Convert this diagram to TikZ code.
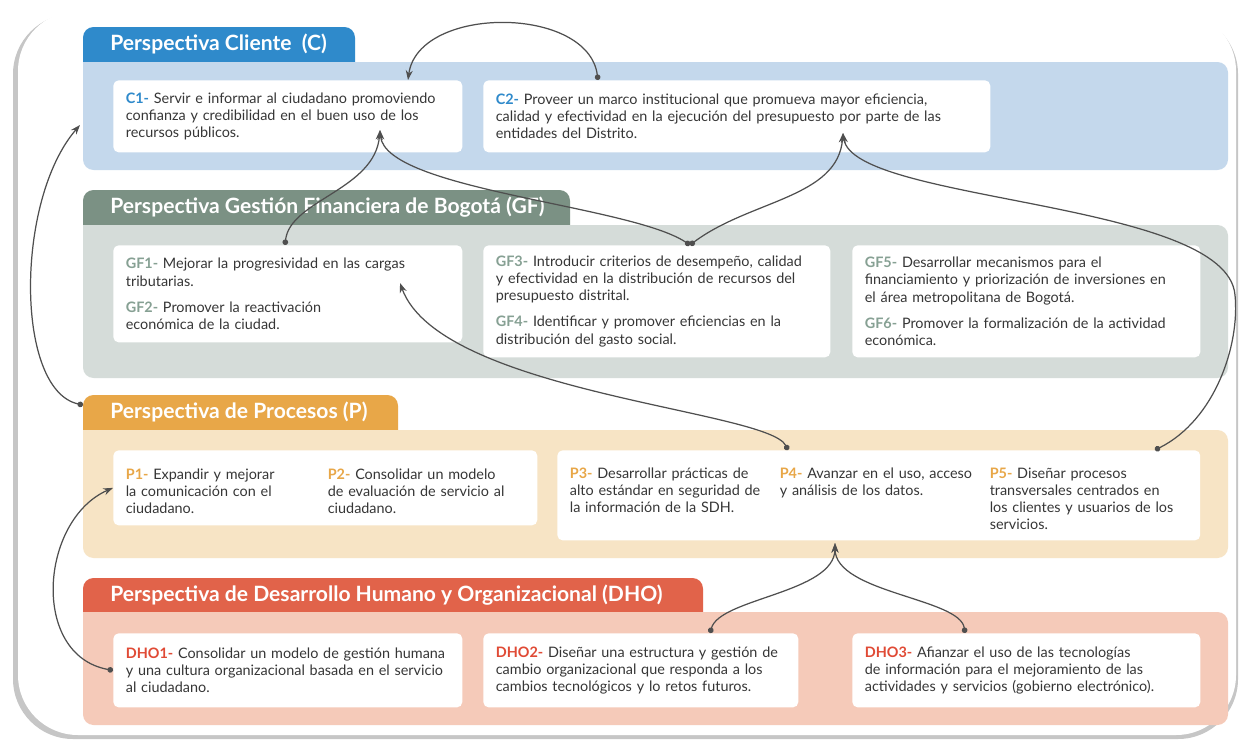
\documentclass[tikz,border=0pt]{standalone}
\usepackage{fontspec}
\setmainfont{Lato}
\usetikzlibrary{calc,arrows.meta}

\definecolor{azul}{HTML}{2F8ACB}
\definecolor{azulclaro}{HTML}{C4D8EC}
\definecolor{verde}{HTML}{7B9184}
\definecolor{verdeclaro}{HTML}{D5DCD9}
\definecolor{verdeeti}{HTML}{86A093}
\definecolor{naranja}{HTML}{E8A748}
\definecolor{naranjaclaro}{HTML}{F7E4C5}
\definecolor{rojo}{HTML}{E1634A}
\definecolor{rojoclaro}{HTML}{F5CAB9}
\definecolor{rojoeti}{HTML}{E04A35}
\definecolor{texto}{HTML}{363636}
\definecolor{linea}{HTML}{4F4F4F}
\newcommand{\eti}[2]{{\bfseries\color{#1}#2}}

\begin{document}
\begin{tikzpicture}[x=0.02cm,y=-0.02cm]
  \tikzstyle{caja}=[fill=white, rounded corners=3pt, anchor=north west, align=left, inner xsep=0.25cm, inner ysep=0.1cm, text=texto, font=\fontsize{8.2}{9.8}\selectfont];
  \tikzstyle{titulo}=[anchor=west, text=white, inner sep=0, font=\fontsize{12}{14}\selectfont\bfseries];
  \tikzstyle{enlace}=[draw=linea, line width=0.7pt, {Circle[length=3.2pt]}-{Stealth[length=5.5pt,width=4pt]}];

  \useasboundingbox (0,0) rectangle (1241,741);
  % marco
  \fill[gray!45, rounded corners=1.2cm] (13,14) rectangle (1238,739);
  \fill[white, rounded corners=1.2cm] (18,11) rectangle (1236,735);

  % perspectivas
  \fill[azul, rounded corners=6pt] (83,27) rectangle (355,75);
  \fill[azulclaro, rounded corners=6pt] (83,62) rectangle (1228,170);
  \fill[azulclaro] (83,62) rectangle (95,75);
  \fill[verde, rounded corners=6pt] (83,190) rectangle (570,238);
  \fill[verdeclaro, rounded corners=6pt] (83,225) rectangle (1228,378);
  \fill[verdeclaro] (83,225) rectangle (95,238);
  \fill[naranja, rounded corners=6pt] (83,395) rectangle (398,443);
  \fill[naranjaclaro, rounded corners=6pt] (83,430) rectangle (1228,558);
  \fill[naranjaclaro] (83,430) rectangle (95,443);
  \fill[rojo, rounded corners=6pt] (83,578) rectangle (703,625);
  \fill[rojoclaro, rounded corners=6pt] (83,612) rectangle (1228,725);
  \fill[rojoclaro] (83,612) rectangle (95,625);

  \node[titulo] (tC) at (110,44) {Perspectiva Cliente~ (C)};
  \node[titulo] (tGF) at (110,207) {Perspectiva Gestión Financiera de Bogotá (GF)};
  \node[titulo] (tP) at (110,412) {Perspectiva de Procesos (P)};
  \node[titulo] (tDHO) at (110,595) {Perspectiva de Desarrollo Humano y Organizacional (DHO)};

  % objetivos
  \node[caja, text width=6.48cm, minimum height=1.44cm] (C1) at (113,80) {\eti{azul}{C1-} Servir e informar al ciudadano promoviendo\\confianza y credibilidad en el buen uso de los\\recursos públicos.};
  \node[caja, text width=9.64cm, minimum height=1.44cm] (C2) at (483,80) {\eti{azul}{C2-} Proveer un marco institucional que promueva mayor eficiencia,\\calidad y efectividad en la ejecución del presupuesto por parte de las\\entidades del Distrito.};

  \node[caja, text width=6.48cm, minimum height=1.94cm] (GF1) at (113,245) {\eti{verdeeti}{GF1-} Mejorar la progresividad en las cargas\\tributarias.\\[5pt]\eti{verdeeti}{GF2-} Promover la reactivación\\económica de la ciudad.};
  \node[caja, text width=6.44cm, minimum height=2.24cm] (GF3) at (483,245) {\eti{verdeeti}{GF3-} Introducir criterios de desempeño, calidad\\y efectividad en la distribución de recursos del\\presupuesto distrital.\\[5pt]\eti{verdeeti}{GF4-} Identificar y promover eficiencias en la\\distribución del gasto social.};
  \node[caja, text width=6.46cm, minimum height=2.24cm] (GF5) at (852,245) {\eti{verdeeti}{GF5-} Desarrollar mecanismos para el\\financiamiento y priorización de inversiones en\\el área metropolitana de Bogotá.\\[5pt]\eti{verdeeti}{GF6-} Promover la formalización de la actividad\\económica.};

  \node[caja, text width=7.98cm, minimum height=1.5cm] (P12) at (113,450) {\begin{tabular}{@{}p{4.04cm}@{}p{3.94cm}@{}}
    \eti{naranja}{P1-} Expandir y mejorar\newline la comunicación con el\newline ciudadano. &
    \eti{naranja}{P2-} Consolidar un modelo\newline de evaluación de servicio al\newline ciudadano.
  \end{tabular}};
  \node[caja, text width=12.36cm, minimum height=1.8cm] (P35) at (557,450) {\begin{tabular}{@{}p{4.2cm}@{}p{4.2cm}@{}p{3.96cm}@{}}
    \eti{naranja}{P3-} Desarrollar prácticas de\newline alto estándar en seguridad de\newline la información de la SDH. &
    \eti{naranja}{P4-} Avanzar en el uso, acceso\newline y análisis de los datos. &
    \eti{naranja}{P5-} Diseñar procesos\newline transversales centrados en\newline los clientes y usuarios de los\newline servicios.
  \end{tabular}};

  \node[caja, text width=6.48cm, minimum height=1.48cm] (DHO1) at (113,633) {\eti{rojoeti}{DHO1-} Consolidar un modelo de gestión humana\\y una cultura organizacional basada en el servicio\\al ciudadano.};
  \node[caja, text width=5.8cm, minimum height=1.48cm] (DHO2) at (483,633) {\eti{rojoeti}{DHO2-} Diseñar una estructura y gestión de\\cambio organizacional que responda a los\\cambios tecnológicos y lo retos futuros.};
  \node[caja, text width=6.46cm, minimum height=1.48cm] (DHO3) at (852,633) {\eti{rojoeti}{DHO3-} Afianzar el uso de las tecnologías\\de información para el mejoramiento de las\\actividades y servicios (gobierno electrónico).};

  % puntos de enlace
  \coordinate (aC1) at ($(C1.north west)+(295,0)$);
  \coordinate (dC2) at ($(C2.north west)+(115,0)$);
  \coordinate (bC1) at ($(C1.north west)+(267,50)$);
  \coordinate (bC2) at ($(C2.north west)+(360,53)$);
  \coordinate (dGF1) at ($(GF1.north west)+(172,0)$);
  \coordinate (dGF3) at ($(GF3.north west)+(207,0)$);
  \coordinate (aGF1) at ($(GF1.north west)+(287,38)$);
  \coordinate (dP4) at ($(P35.north west)+(231,0)$);
  \coordinate (dP5) at ($(P35.north west)+(598,0)$);
  \coordinate (aP35) at ($(P35.north west)+(278,93)$);
  \coordinate (dD2) at ($(DHO2.north west)+(227,0)$);
  \coordinate (dD3) at ($(DHO3.north west)+(113,0)$);
  \coordinate (dTP) at (83,405);
  \coordinate (aBC) at (80,125);
  \coordinate (giro) at (1235,295);

  \draw[enlace] (dC2) .. controls +(-10,-75) and +(10,-75) .. (aC1);
  \draw[enlace] (dGF1) .. controls +(5,-45) and +(-5,60) .. (bC1);
  \draw[enlace] (dGF3) .. controls +(-60,-40) and +(5,60) .. (bC1);
  \draw[enlace] (dGF3) .. controls +(60,-45) and +(-5,65) .. (bC2);
  \draw[enlace] (dP5) .. controls +(60,-30) and +(5,50) .. (giro) .. controls +(-8,-95) and +(10,70) .. (bC2);
  \draw[enlace] (dP4) .. controls +(-20,-40) and +(40,110) .. (aGF1);
  \draw[enlace] (dTP) .. controls +(-68,-15) and +(-65,75) .. (aBC);
  \draw[enlace] (DHO1.west) .. controls +(-83,-15) and +(-73,32) .. (P12.west);
  \draw[enlace] (dD2) .. controls +(10,-35) and +(0,50) .. (aP35);
  \draw[enlace] (dD3) .. controls +(-5,-35) and +(0,50) .. (aP35);
\end{tikzpicture}
\end{document}
